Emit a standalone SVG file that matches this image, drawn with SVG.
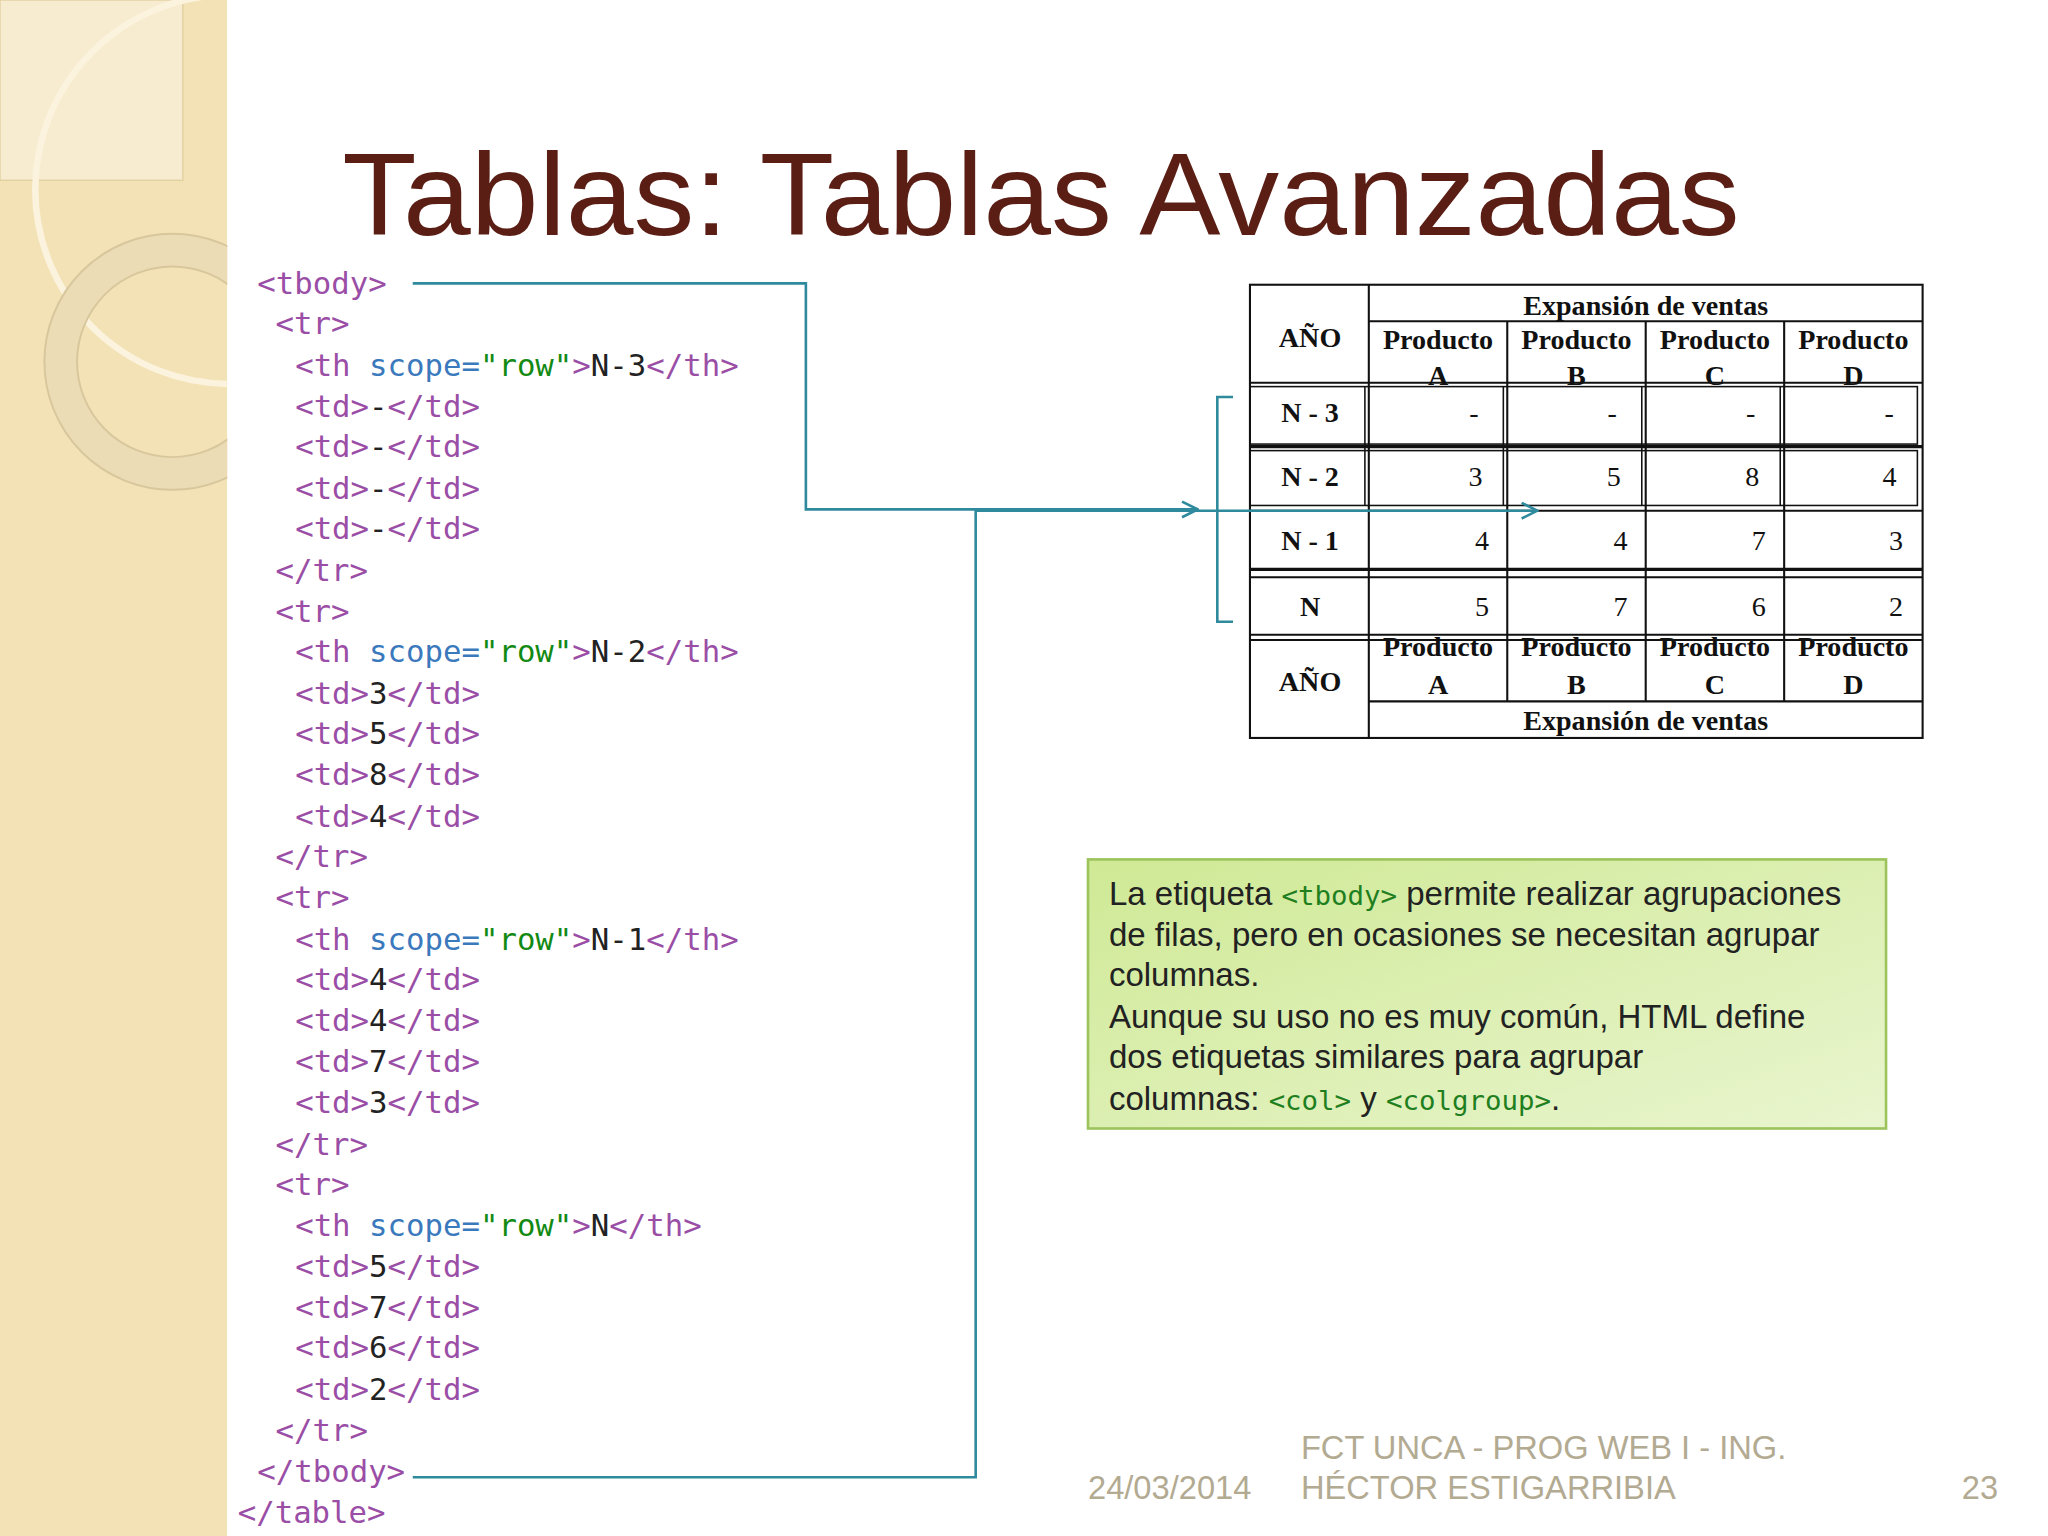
<svg xmlns="http://www.w3.org/2000/svg" width="2048" height="1536" viewBox="0 0 2048 1536">
<defs>
<style>
.c{font-family:"DejaVu Sans Mono","Liberation Mono",monospace;font-size:23.5px;fill:#222}
.t{fill:#9a4ea6}.a{fill:#3b79bd}.s{fill:#138a13}
.tb{font-family:"Liberation Serif",serif;font-weight:bold;font-size:21.5px;fill:#111}
.g{font-family:"Liberation Sans",Arial,sans-serif;font-size:25.3px;fill:#222}
.gc{font-family:"DejaVu Sans Mono",monospace;font-size:21px;fill:#1f7f1f}
.f{font-family:"Liberation Sans",Arial,sans-serif;font-size:25px;fill:#b3aa92}
.ln{fill:none;stroke:#2e8a9c;stroke-width:2}
.tl{stroke:#111;stroke-width:1.6;fill:none}
</style>
<linearGradient id="gb" x1="0" y1="0" x2="1" y2="1"><stop offset="0" stop-color="#cfe995"/><stop offset="1" stop-color="#e9f5cf"/></linearGradient>
<clipPath id="lp"><rect x="0" y="0" width="174" height="1176"/></clipPath>
<marker id="ar" viewBox="0 0 14 14" refX="13" refY="7" markerWidth="14" markerHeight="14" markerUnits="userSpaceOnUse" orient="auto"><path d="M1,1 L13,7 L1,13" fill="none" stroke="#2e8a9c" stroke-width="2"/></marker>
</defs>
<g transform="scale(1.30612)">
<rect width="1568" height="1176" fill="#fff"/>
<g id="bg" clip-path="url(#lp)">
<rect width="174" height="1176" fill="#f3e2b6"/>
<rect x="0" y="0" width="140" height="138" fill="#f7ecd0" stroke="#e0cf9f"/>
<circle cx="176" cy="145" r="149" fill="none" stroke="#fbf3de" stroke-width="5"/>
<circle cx="132" cy="277" r="86" fill="none" stroke="#ecdcb6" stroke-width="25"/>
<circle cx="132" cy="277" r="98" fill="none" stroke="#d8c79c" stroke-width="1.5"/>
<circle cx="132" cy="277" r="73" fill="none" stroke="#d8c79c" stroke-width="1.5"/>
</g>
<text id="title" x="262" y="180" font-family="Liberation Sans,Arial,sans-serif" font-size="90" fill="#5a1e14" textLength="1070" lengthAdjust="spacingAndGlyphs">Tablas: Tablas Avanzadas</text>
<g id="code" class="c">
<text x="197" y="225"><tspan class="t">&lt;tbody&gt;</tspan></text>
<text x="211" y="256"><tspan class="t">&lt;tr&gt;</tspan></text>
<text x="226" y="288"><tspan class="t">&lt;th </tspan><tspan class="a">scope=</tspan><tspan class="s">"row"</tspan><tspan class="t">&gt;</tspan>N-3<tspan class="t">&lt;/th&gt;</tspan></text>
<text x="226" y="319"><tspan class="t">&lt;td&gt;</tspan>-<tspan class="t">&lt;/td&gt;</tspan></text>
<text x="226" y="350"><tspan class="t">&lt;td&gt;</tspan>-<tspan class="t">&lt;/td&gt;</tspan></text>
<text x="226" y="382"><tspan class="t">&lt;td&gt;</tspan>-<tspan class="t">&lt;/td&gt;</tspan></text>
<text x="226" y="413"><tspan class="t">&lt;td&gt;</tspan>-<tspan class="t">&lt;/td&gt;</tspan></text>
<text x="211" y="445"><tspan class="t">&lt;/tr&gt;</tspan></text>
<text x="211" y="476"><tspan class="t">&lt;tr&gt;</tspan></text>
<text x="226" y="507"><tspan class="t">&lt;th </tspan><tspan class="a">scope=</tspan><tspan class="s">"row"</tspan><tspan class="t">&gt;</tspan>N-2<tspan class="t">&lt;/th&gt;</tspan></text>
<text x="226" y="539"><tspan class="t">&lt;td&gt;</tspan>3<tspan class="t">&lt;/td&gt;</tspan></text>
<text x="226" y="570"><tspan class="t">&lt;td&gt;</tspan>5<tspan class="t">&lt;/td&gt;</tspan></text>
<text x="226" y="601"><tspan class="t">&lt;td&gt;</tspan>8<tspan class="t">&lt;/td&gt;</tspan></text>
<text x="226" y="633"><tspan class="t">&lt;td&gt;</tspan>4<tspan class="t">&lt;/td&gt;</tspan></text>
<text x="211" y="664"><tspan class="t">&lt;/tr&gt;</tspan></text>
<text x="211" y="695"><tspan class="t">&lt;tr&gt;</tspan></text>
<text x="226" y="727"><tspan class="t">&lt;th </tspan><tspan class="a">scope=</tspan><tspan class="s">"row"</tspan><tspan class="t">&gt;</tspan>N-1<tspan class="t">&lt;/th&gt;</tspan></text>
<text x="226" y="758"><tspan class="t">&lt;td&gt;</tspan>4<tspan class="t">&lt;/td&gt;</tspan></text>
<text x="226" y="789"><tspan class="t">&lt;td&gt;</tspan>4<tspan class="t">&lt;/td&gt;</tspan></text>
<text x="226" y="821"><tspan class="t">&lt;td&gt;</tspan>7<tspan class="t">&lt;/td&gt;</tspan></text>
<text x="226" y="852"><tspan class="t">&lt;td&gt;</tspan>3<tspan class="t">&lt;/td&gt;</tspan></text>
<text x="211" y="884"><tspan class="t">&lt;/tr&gt;</tspan></text>
<text x="211" y="915"><tspan class="t">&lt;tr&gt;</tspan></text>
<text x="226" y="946"><tspan class="t">&lt;th </tspan><tspan class="a">scope=</tspan><tspan class="s">"row"</tspan><tspan class="t">&gt;</tspan>N<tspan class="t">&lt;/th&gt;</tspan></text>
<text x="226" y="978"><tspan class="t">&lt;td&gt;</tspan>5<tspan class="t">&lt;/td&gt;</tspan></text>
<text x="226" y="1009"><tspan class="t">&lt;td&gt;</tspan>7<tspan class="t">&lt;/td&gt;</tspan></text>
<text x="226" y="1040"><tspan class="t">&lt;td&gt;</tspan>6<tspan class="t">&lt;/td&gt;</tspan></text>
<text x="226" y="1072"><tspan class="t">&lt;td&gt;</tspan>2<tspan class="t">&lt;/td&gt;</tspan></text>
<text x="211" y="1103"><tspan class="t">&lt;/tr&gt;</tspan></text>
<text x="197" y="1135"><tspan class="t">&lt;/tbody&gt;</tspan></text>
<text x="182" y="1166"><tspan class="t">&lt;/table&gt;</tspan></text>
</g>
<g id="table">
<rect x="957" y="218" width="515" height="347" class="tl"/>
<line x1="1048" y1="218" x2="1048" y2="565" class="tl"/>
<line x1="1048" y1="246" x2="1472" y2="246" class="tl"/>
<line x1="957" y1="293" x2="1472" y2="293" class="tl"/>
<line x1="1048" y1="537" x2="1472" y2="537" class="tl"/>
<line x1="957" y1="486" x2="1472" y2="486" class="tl"/>
<g class="tl">
<line x1="1154" y1="246" x2="1154" y2="537"/><line x1="1260" y1="246" x2="1260" y2="537"/><line x1="1366" y1="246" x2="1366" y2="537"/>
<rect x="957" y="296" width="511" height="44" stroke-width="1.2"/>
<rect x="957" y="345" width="511" height="42" stroke-width="1.2"/>
<line x1="1045" y1="296" x2="1045" y2="387" stroke-width="1.2"/><line x1="1151" y1="296" x2="1151" y2="387" stroke-width="1.2"/><line x1="1257" y1="296" x2="1257" y2="387" stroke-width="1.2"/><line x1="1363" y1="296" x2="1363" y2="387" stroke-width="1.2"/>
<line x1="957" y1="342" x2="1472" y2="342" stroke-width="2.5"/>
<line x1="957" y1="391" x2="1472" y2="391"/>
<line x1="957" y1="436" x2="1472" y2="436" stroke-width="2.5"/>
<line x1="957" y1="442" x2="1472" y2="442"/>
<line x1="957" y1="490" x2="1472" y2="490"/>
</g>
<g class="tb" text-anchor="middle">
<text x="1260" y="241">Expansión de ventas</text>
<text x="1003" y="266">AÑO</text>
<text x="1101" y="267">Producto</text><text x="1207" y="267">Producto</text><text x="1313" y="267">Producto</text><text x="1419" y="267">Producto</text>
<text x="1101" y="295">A</text><text x="1207" y="295">B</text><text x="1313" y="295">C</text><text x="1419" y="295">D</text>
<text x="1003" y="323">N - 3</text><text x="1003" y="372">N - 2</text><text x="1003" y="421">N - 1</text><text x="1003" y="472">N</text>
<text x="1003" y="529">AÑO</text>
<text x="1101" y="502">Producto</text><text x="1207" y="502">Producto</text><text x="1313" y="502">Producto</text><text x="1419" y="502">Producto</text>
<text x="1101" y="531">A</text><text x="1207" y="531">B</text><text x="1313" y="531">C</text><text x="1419" y="531">D</text>
<text x="1260" y="559">Expansión de ventas</text>
</g>
<g class="tb" text-anchor="end" style="font-weight:normal">
<text x="1132" y="323">-</text><text x="1238" y="323">-</text><text x="1344" y="323">-</text><text x="1450" y="323">-</text>
<text x="1135" y="372">3</text><text x="1241" y="372">5</text><text x="1347" y="372">8</text><text x="1452" y="372">4</text>
<text x="1140" y="421">4</text><text x="1246" y="421">4</text><text x="1352" y="421">7</text><text x="1457" y="421">3</text>
<text x="1140" y="472">5</text><text x="1246" y="472">7</text><text x="1352" y="472">6</text><text x="1457" y="472">2</text>
</g>
</g>
<g id="connectors">
<polyline class="ln" points="316,217 617,217 617,390 917,390" marker-end="url(#ar)"/>
<polyline class="ln" points="316,1131 747,1131 747,391 1177,391" marker-end="url(#ar)"/>
<polyline class="ln" points="944,304 932,304 932,476 944,476"/>
</g>
<g id="note">
<rect x="833" y="658" width="611" height="206" fill="url(#gb)" stroke="#9cc35c" stroke-width="2"/>
<text x="849" y="693" class="g">La etiqueta <tspan class="gc">&lt;tbody&gt;</tspan> permite realizar agrupaciones</text>
<text x="849" y="724" class="g">de filas, pero en ocasiones se necesitan agrupar</text>
<text x="849" y="755" class="g">columnas.</text>
<text x="849" y="787" class="g">Aunque su uso no es muy común, HTML define</text>
<text x="849" y="818" class="g">dos etiquetas similares para agrupar</text>
<text x="849" y="850" class="g">columnas: <tspan class="gc">&lt;col&gt;</tspan> y <tspan class="gc">&lt;colgroup&gt;</tspan>.</text>
</g>
<g id="footer" class="f">
<text x="833" y="1148">24/03/2014</text>
<text x="996" y="1117">FCT UNCA - PROG WEB I - ING.</text>
<text x="996" y="1148">HÉCTOR ESTIGARRIBIA</text>
<text x="1502" y="1148">23</text>
</g>
</g>
</svg>
